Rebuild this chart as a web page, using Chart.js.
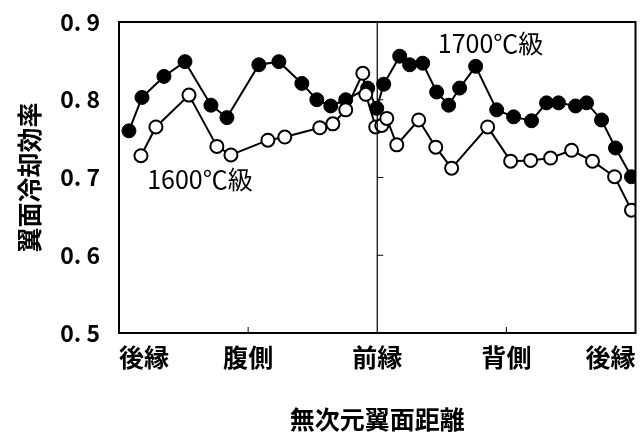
<!DOCTYPE html>
<html>
<head>
<meta charset="utf-8">
<script src="https://cdn.jsdelivr.net/npm/chart.js@4/dist/chart.umd.min.js"></script>
<style>
  html, body { margin: 0; padding: 0; background: #fff; }
  #wrap { width: 644px; height: 437px; }
</style>
</head>
<body>
<div id="wrap"><canvas id="c" width="644" height="437"></canvas></div>
<script>
// Position along the airfoil surface: 0 = trailing edge (pressure side),
// 2 = leading edge, 4 = trailing edge (suction side)
const categories = ['後縁', '腹側', '前縁', '背側', '後縁'];
const yTickLabels = ['0. 5', '0. 6', '0. 7', '0. 8', '0. 9'];

// 1700℃級
const pos1700 = [0.077, 0.178, 0.348, 0.511, 0.712, 0.836, 1.083, 1.238, 1.416, 1.532,
                 1.640, 1.756, 1.926, 1.996, 2.050, 2.174, 2.251, 2.352, 2.460, 2.553,
                 2.638, 2.762, 2.925, 3.056, 3.195, 3.311, 3.404, 3.536, 3.621, 3.737,
                 3.845, 3.969];
const eff1700 = [0.760, 0.803, 0.830, 0.849, 0.793, 0.777, 0.845, 0.849, 0.821, 0.800,
                 0.792, 0.800, 0.815, 0.789, 0.820, 0.856, 0.845, 0.847, 0.810, 0.793,
                 0.815, 0.843, 0.787, 0.778, 0.773, 0.796, 0.796, 0.792, 0.796, 0.774,
                 0.738, 0.701];

// 1600℃級
const pos1600 = [0.170, 0.286, 0.542, 0.758, 0.867, 1.153, 1.284, 1.555, 1.656, 1.756,
                 1.888, 1.911, 1.988, 2.035, 2.074, 2.151, 2.321, 2.453, 2.576, 2.855,
                 3.033, 3.188, 3.342, 3.505, 3.667, 3.838, 3.969];
const eff1600 = [0.728, 0.765, 0.806, 0.740, 0.729, 0.748, 0.752, 0.764, 0.769, 0.787,
                 0.834, 0.807, 0.765, 0.767, 0.776, 0.742, 0.774, 0.739, 0.712, 0.765,
                 0.721, 0.722, 0.725, 0.735, 0.721, 0.701, 0.658];

// Series captions placed in data coordinates
const seriesNames = ['1700℃級', '1600℃級'];
const captionPos = [[2.878, 0.872], [0.627, 0.697]];

const FONT = '"Noto Sans CJK JP", "Noto Sans", sans-serif';
const toPoints = (xs, ys) => xs.map((x, i) => ({ x: x, y: ys[i] }));

const framePlugin = {
  id: 'frame',
  afterDatasetsDraw(chart) {
    const { ctx, chartArea: a, scales: { x, y } } = chart;
    ctx.save();
    ctx.strokeStyle = '#000';
    // leading-edge divider
    const xl = x.getPixelForValue(2);
    ctx.lineWidth = 1.2;
    ctx.beginPath();
    ctx.moveTo(xl, a.top);
    ctx.lineTo(xl, a.bottom);
    ctx.stroke();
    // short inward ticks
    ctx.lineWidth = 1;
    [1, 3].forEach(v => {
      const px = x.getPixelForValue(v);
      ctx.beginPath();
      ctx.moveTo(px, a.bottom);
      ctx.lineTo(px, a.bottom - 6);
      ctx.stroke();
    });
    [0.6, 0.7, 0.8].forEach(v => {
      const py = y.getPixelForValue(v);
      ctx.beginPath();
      ctx.moveTo(xl, py);
      ctx.lineTo(xl + 6, py);
      ctx.stroke();
    });
    // plot frame
    ctx.lineWidth = 2;
    ctx.strokeRect(a.left, a.top, a.right - a.left, a.bottom - a.top);
    // series captions
    ctx.fillStyle = '#000';
    ctx.font = '25px ' + FONT;
    ctx.textAlign = 'center';
    ctx.textBaseline = 'middle';
    seriesNames.forEach((t, i) => {
      ctx.fillText(t, x.getPixelForValue(captionPos[i][0]), y.getPixelForValue(captionPos[i][1]));
    });
    ctx.restore();
  }
};

new Chart(document.getElementById('c'), {
  type: 'line',
  data: {
    datasets: [
      {
        label: seriesNames[1],
        data: toPoints(pos1600, eff1600),
        borderColor: '#000',
        borderWidth: 2,
        pointBackgroundColor: '#fff',
        pointBorderColor: '#000',
        pointBorderWidth: 2,
        pointRadius: 6.5,
        tension: 0,
        clip: 0
      },
      {
        label: seriesNames[0],
        data: toPoints(pos1700, eff1700),
        borderColor: '#000',
        borderWidth: 2,
        pointBackgroundColor: '#000',
        pointBorderColor: '#000',
        pointBorderWidth: 1,
        pointRadius: 7,
        tension: 0,
        clip: 0
      }
    ]
  },
  options: {
    responsive: false,
    animation: false,
    events: [],
    layout: { padding: { top: 22, right: 8, left: 0, bottom: 0 } },
    plugins: { legend: { display: false }, tooltip: { enabled: false } },
    scales: {
      x: {
        type: 'linear',
        min: 0,
        max: 4,
        grid: { display: false, drawTicks: false },
        border: { display: false },
        ticks: {
          stepSize: 1,
          autoSkip: false,
          maxRotation: 0,
          align: 'inner',
          padding: 9,
          color: '#000',
          font: { family: FONT, size: 25, weight: 'bold' },
          callback: v => categories[Math.round(v)]
        },
        title: {
          display: true,
          text: '無次元翼面距離',
          color: '#000',
          font: { family: FONT, size: 25, weight: 'bold' },
          padding: { top: 0, bottom: 3 }
        },
        afterFit: s => { s.height = 104; s.paddingLeft = 0; s.paddingRight = 0; }
      },
      y: {
        min: 0.5,
        max: 0.9,
        grid: { display: false, drawTicks: false },
        border: { display: false },
        ticks: {
          stepSize: 0.1,
          padding: 19,
          color: '#000',
          font: { family: FONT, size: 23, weight: 'bold' },
          callback: v => yTickLabels[Math.round((v - 0.5) * 10)]
        },
        title: {
          display: true,
          text: '翼面冷却効率',
          color: '#000',
          font: { family: FONT, size: 25, weight: 'bold' },
          padding: { top: 14, bottom: 0 }
        },
        afterFit: s => { s.width = 119; s.paddingTop = 0; s.paddingBottom = 0; }
      }
    }
  },
  plugins: [framePlugin]
});
</script>
</body>
</html>
